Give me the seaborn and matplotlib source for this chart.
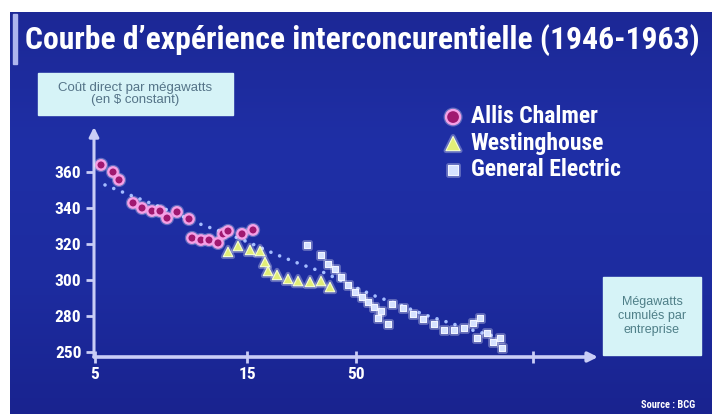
import numpy as np
import pandas as pd
import seaborn as sns
import matplotlib.pyplot as plt
import matplotlib.patheffects as pe
from matplotlib.patches import Rectangle
from matplotlib.colors import LinearSegmentedColormap
from matplotlib import font_manager

# Position on the cumulative-megawatt axis (0 = first tick "5") and direct cost per MW
allis_x = [6, 18, 24, 38, 47, 57, 65, 72, 82, 94, 97, 106, 114, 123, 128, 133, 147, 158]
allis_y = [363.9, 360.0, 355.6, 342.8, 340.0, 338.3, 338.3, 334.4, 337.8, 333.9,
           323.3, 322.2, 322.2, 320.6, 325.6, 327.2, 325.6, 327.8]

westing_x = [133, 143, 155, 165, 170, 173, 182, 193, 203, 215, 226, 235]
westing_y = [315.6, 318.9, 316.7, 316.1, 310.0, 305.0, 302.8, 300.6, 299.4, 298.9,
             299.4, 296.1]

ge_x = [212, 226, 233, 240, 246, 253, 260, 267, 273, 279, 283, 286, 293, 297, 308,
        318, 328, 339, 349, 359, 369, 378, 385, 382, 392, 398, 405, 407]
ge_y = [319.4, 313.9, 308.9, 306.1, 301.7, 297.2, 293.3, 290.6, 287.8, 285.0, 278.9,
        282.8, 275.6, 286.7, 284.4, 281.1, 278.3, 275.6, 272.2, 272.2, 273.3, 276.1,
        278.9, 267.8, 270.6, 265.6, 267.8, 262.2]

trend_x = [10, 30, 55, 80, 105, 130, 155, 180, 205, 230, 255, 280, 305, 330, 355, 380, 405]
trend_y = [352.8, 348.3, 342.8, 337.2, 331.1, 326.1, 320.6, 314.4, 308.9, 303.9,
           297.2, 291.1, 286.1, 280.6, 276.1, 271.7, 267.8]

x_ticks = [0, 152, 261, 438]
x_labels = ["5", "15", "50", ""]
y_ticks = [260, 280, 300, 320, 340, 360]
y_labels = ["250", "280", "300", "320", "340", "360"]

title = "Courbe d\u2019expérience interconcurentielle (1946-1963)"
y_caption = "Coût direct par mégawatts\n(en $ constant)"
x_caption = "Mégawatts\ncumulés par\nentreprise"

sns.set_theme(style="white")
installed = {f.name for f in font_manager.fontManager.ttflist}
narrow = [n for n in ["Liberation Sans Narrow", "Roboto Condensed", "DejaVu Sans"] if n in installed]
plt.rcParams["font.family"] = narrow + ["DejaVu Sans"]
plt.rcParams["font.stretch"] = "condensed"

W, H = 712, 417
fig = plt.figure(figsize=(W / 100, H / 100), dpi=100)
fig.patch.set_facecolor("white")
renderer = fig.canvas.get_renderer()


def fit_width(txt, width_px):
    """Shrink or grow a text so that it spans the given width in pixels."""
    w = txt.get_window_extent(renderer).width
    txt.set_fontsize(txt.get_fontsize() * width_px / w)


# Blue backdrop with a soft vertical gradient
bg = fig.add_axes([10 / W, 1 - 414 / H, 1 - 10 / W, (414 - 12) / H])
cmap = LinearSegmentedColormap.from_list("bg", ["#1c2896", "#1f2fa6", "#1d2ca0", "#19238f"])
bg.imshow(np.linspace(0, 1, 256)[:, None], aspect="auto", cmap=cmap,
          extent=[0, 1, 0, 1], origin="upper")
bg.axis("off")

# Title with a vertical accent bar
fig.patches.append(Rectangle((13 / W, 1 - 64 / H), 4 / W, 50 / H,
                             transform=fig.transFigure, color="#aeb6ee", zorder=2))
t = fig.text(25 / W, 1 - 40 / H, title, color="white", fontsize=22, fontweight="bold",
             va="center", ha="left")
fit_width(t, 676)

ax = fig.add_axes([94 / W, 1 - 357 / H, (598 - 94) / W, (357 - 127) / H])
ax.patch.set_alpha(0)
ax.set_xlim(-1, 503)
ax.set_ylim(257.2, 385)

# Dotted trend line
ax.plot(trend_x, trend_y, linestyle=(0, (0.01, 2.6)), lw=2.6, color="#a4bcff",
        dash_capstyle="round", zorder=3)

glow = [pe.Stroke(linewidth=3.5, foreground="white", alpha=0.3), pe.Normal()]

sns.scatterplot(x=allis_x, y=allis_y, marker="o", s=46, color="#a01870",
                edgecolor="#f5a0e6", linewidth=1.7, label="Allis Chalmer", ax=ax, zorder=5)
ax.collections[-1].set_path_effects(glow)
sns.scatterplot(x=westing_x, y=westing_y, marker="^", s=46, color="#e2ee78",
                edgecolor="#f6ffd2", linewidth=0.8, label="Westinghouse", ax=ax, zorder=4)
ax.collections[-1].set_path_effects(glow)
sns.scatterplot(x=ge_x, y=ge_y, marker="s", s=23, color="#d6e2ff",
                edgecolor="#f0f4ff", linewidth=0.8, label="General Electric", ax=ax, zorder=4)
ax.collections[-1].set_path_effects(glow)

# Axes drawn as arrows
for spine in ax.spines.values():
    spine.set_visible(False)
axis_col = "#c9cdf6"
ax.annotate("", xy=(0, 1), xytext=(0, 0), xycoords="axes fraction",
            arrowprops=dict(arrowstyle="-|>", color=axis_col, lw=2.2, mutation_scale=14,
                            shrinkA=0, shrinkB=0))
ax.annotate("", xy=(1, 0), xytext=(0, 0), xycoords="axes fraction",
            arrowprops=dict(arrowstyle="-|>", color=axis_col, lw=2.6, mutation_scale=14,
                            shrinkA=0, shrinkB=0))

ax.set_xticks(x_ticks, x_labels)
ax.set_yticks(y_ticks, y_labels)
ax.tick_params(axis="y", left=True, length=6, width=2, color=axis_col, direction="out",
               pad=3, labelsize=12.5, labelcolor="white")
ax.tick_params(axis="x", bottom=True, length=8, width=2, color=axis_col, direction="inout",
               pad=3, labelsize=12.5, labelcolor="white")
for lbl in ax.get_xticklabels() + ax.get_yticklabels():
    lbl.set_fontweight("bold")
ax.set_xlabel("")
ax.set_ylabel("")

leg = ax.legend(loc="upper left", bbox_to_anchor=(420 / W, 1 - 84 / H),
                bbox_transform=fig.transFigure, frameon=False, labelcolor="white",
                prop={"weight": "bold", "size": 17}, handletextpad=0.25,
                labelspacing=0.15, markerscale=1.5, handlelength=1.0)

# Caption boxes
box_col = "#d6f3f7"
fig.patches.append(Rectangle((38 / W, 1 - 115 / H), 195 / W, 42 / H,
                             transform=fig.transFigure, color=box_col, zorder=2))
fig.text(135.5 / W, 1 - 94 / H, y_caption, color="#557488", fontsize=9.5,
         ha="center", va="center", linespacing=1.1, family="Liberation Sans",
         stretch="normal")
fig.patches.append(Rectangle((603 / W, 1 - 355 / H), 98 / W, 78 / H,
                             transform=fig.transFigure, color=box_col, zorder=2))
fig.text(652 / W, 1 - 316 / H, x_caption, color="#4f7f88", fontsize=9,
         ha="center", va="center", linespacing=1.2, family="Liberation Sans",
         stretch="normal")

fig.text(695 / W, 1 - 405 / H, "Source : BCG", color="white", fontsize=7.5,
         fontweight="bold", ha="right", va="center")

fig.savefig("out.png", dpi=100)
